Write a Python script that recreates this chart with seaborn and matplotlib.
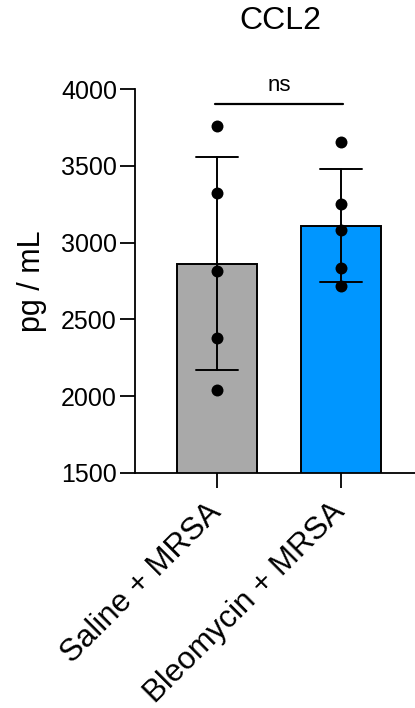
import numpy as np
import pandas as pd
import matplotlib
matplotlib.use("Agg")
import matplotlib.pyplot as plt
import seaborn as sns

groups = ["Saline + MRSA", "Bleomycin + MRSA"]
saline_vals = [3761, 3326, 2818, 2377, 2038]
bleo_vals = [3656, 3252, 3083, 2837, 2720]
bar_colors = ["#A9A9A9", "#0096FF"]
yticks = [1500, 2000, 2500, 3000, 3500, 4000]
title = "CCL2"
ylabel = "pg / mL"
sig_label = "ns"

df = pd.DataFrame({
    "group": [groups[0]] * len(saline_vals) + [groups[1]] * len(bleo_vals),
    "value": saline_vals + bleo_vals,
})

sns.set_style("ticks")
plt.rcParams["font.family"] = ["Liberation Sans", "DejaVu Sans"]
plt.rcParams["text.color"] = "black"
plt.rcParams["axes.labelcolor"] = "black"
plt.rcParams["xtick.color"] = "black"
plt.rcParams["ytick.color"] = "black"
plt.rcParams["axes.edgecolor"] = "black"

fig = plt.figure(figsize=(4.15, 7.08), dpi=100)
ax = fig.add_axes([135 / 415, 1 - 472.7 / 708, 1 - 135 / 415, (472.7 - 89.3) / 708])

sns.barplot(data=df, x="group", y="value", hue="group", palette=bar_colors,
            saturation=1, errorbar="sd", capsize=0.34, width=0.645, ax=ax,
            legend=False, edgecolor="black", linewidth=1.4,
            err_kws={"color": "black", "linewidth": 1.4})
sns.stripplot(data=df, x="group", y="value", jitter=False, color="black",
              size=8.6, ax=ax, zorder=5)

ax.set_ylim(1500, 4000)
ax.set_xlim(-0.665, 1.6)
ax.set_yticks(yticks)
ax.set_yticklabels([str(t) for t in yticks])
for s in ["top", "right"]:
    ax.spines[s].set_visible(False)
for s in ["left", "bottom"]:
    ax.spines[s].set_linewidth(1.3)
ax.tick_params(axis="both", length=11, width=1.3, labelsize=18, pad=2,
               color="black", labelcolor="black")
ax.tick_params(axis="x", pad=14)
ax.set_xlabel("")
ax.set_ylabel(ylabel, fontsize=22, labelpad=10, color="black")
ax.set_xticks([0, 1])
ax.set_xticklabels(groups, rotation=45, ha="right", va="center",
                   rotation_mode="anchor", fontsize=22.5)

# significance bar
ax.plot([-0.02, 1.02], [3906, 3906], color="black", lw=1.6, clip_on=False)
ax.text(0.5, 3989, sig_label, ha="center", va="baseline", fontsize=16, color="black")

fig.text(280 / 415, 1 - 21 / 708, title, ha="center", va="center", fontsize=23,
         color="black")

fig.savefig("out.png", dpi=100)
